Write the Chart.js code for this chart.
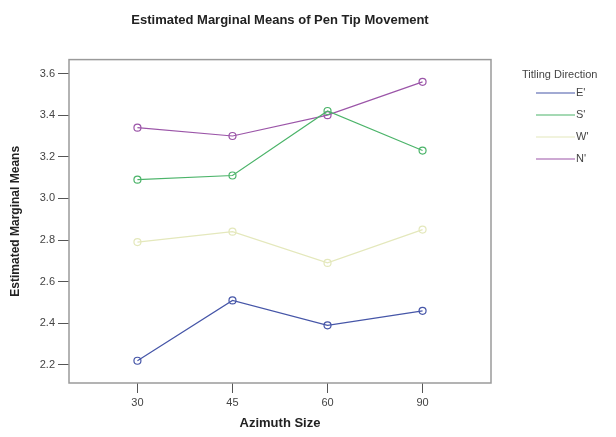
<!DOCTYPE html>
<html>
<head>
<meta charset="utf-8">
<script src="https://cdn.jsdelivr.net/npm/chart.js@4.4.1/dist/chart.umd.min.js"></script>
<style>
  html, body { margin: 0; padding: 0; background: #fff; }
  #wrap { width: 616px; height: 437px; }
</style>
</head>
<body>
<div id="wrap"><canvas id="emm" width="616" height="437"></canvas></div>
<script>
// Azimuth size categories on the x axis
const azimuths = ["30", "45", "60", "90"];
const yTicks = [2.2, 2.4, 2.6, 2.8, 3.0, 3.2, 3.4, 3.6];

// estimated marginal means per tilting direction
const seriesNames = ["E'", "S'", "W'", "N'"];
const eastMeans = [2.22, 2.51, 2.39, 2.46];
const southMeans = [3.09, 3.11, 3.42, 3.23];
const westMeans = [2.79, 2.84, 2.69, 2.85];
const northMeans = [3.34, 3.30, 3.40, 3.56];

const seriesColors = ["#4656a8", "#4cb46a", "#e4e8bc", "#9b55a8"];
const seriesValues = [eastMeans, southMeans, westMeans, northMeans];

const FONT = "'Liberation Sans', Arial, sans-serif";

const frameBox = {
    id: "frameBox",
    beforeDatasetsDraw(chart) {
        const { ctx, chartArea: a } = chart;
        ctx.save();
        ctx.strokeStyle = "#9a9a9a";
        ctx.lineWidth = 1.5;
        ctx.strokeRect(a.left, a.top, a.right - a.left, a.bottom - a.top);
        ctx.restore();
    },
};

// SPSS-style legend to the right of the plot
const sideLegend = {
    id: "sideLegend",
    afterDraw(chart) {
        const ctx = chart.ctx;
        ctx.save();
        ctx.font = "11px " + FONT;
        ctx.fillStyle = "#444";
        ctx.textBaseline = "middle";
        ctx.textAlign = "left";
        ctx.fillText("Titling Direction", 522, 75);
        chart.data.datasets.forEach((ds, i) => {
            const y = 93 + i * 22;
            ctx.strokeStyle = ds.borderColor;
            ctx.lineWidth = 1.2;
            ctx.beginPath();
            ctx.moveTo(536, y);
            ctx.lineTo(575, y);
            ctx.stroke();
            ctx.fillStyle = "#444";
            ctx.fillText(ds.label, 576, y);
        });
        ctx.restore();
    },
};

const datasets = seriesNames.map((name, i) => ({
    label: name,
    data: seriesValues[i].map((v, j) => ({ x: j, y: v })),
    borderColor: seriesColors[i],
    backgroundColor: "rgba(255,255,255,0)",
    borderWidth: 1.2,
    pointRadius: 3.5,
    pointBorderWidth: 1.2,
    pointBackgroundColor: "rgba(255,255,255,0)",
    pointBorderColor: seriesColors[i],
    tension: 0,
}));

new Chart(document.getElementById("emm").getContext("2d"), {
    type: "line",
    data: { datasets: datasets },
    plugins: [frameBox, sideLegend],
    options: {
        responsive: false,
        animation: false,
        layout: { padding: { left: 0, right: 125, top: 0, bottom: 0 } },
        plugins: {
            legend: { display: false },
            tooltip: { enabled: false },
            title: {
                display: true,
                fullSize: false,
                text: "Estimated Marginal Means of Pen Tip Movement",
                color: "#222",
                font: { family: FONT, size: 13, weight: "bold" },
                padding: { top: 13, bottom: 31 },
            },
        },
        scales: {
            x: {
                type: "linear",
                min: -0.72,
                max: 3.72,
                afterBuildTicks: (s) => { s.ticks = azimuths.map((c, i) => ({ value: i })); },
                afterFit: (s) => { s.height = 54; },
                ticks: {
                    callback: (v) => azimuths[v],
                    color: "#444",
                    font: { family: FONT, size: 11 },
                    padding: 3,
                    maxRotation: 0,
                },
                grid: { drawOnChartArea: false, drawTicks: true, tickLength: 10, color: "#555" },
                border: { display: false },
                title: {
                    display: true,
                    text: "Azimuth Size",
                    color: "#222",
                    font: { family: FONT, size: 13, weight: "bold" },
                    padding: { top: 0, bottom: 6 },
                },
            },
            y: {
                min: 2.113,
                max: 3.667,
                afterBuildTicks: (s) => { s.ticks = yTicks.map((v) => ({ value: v })); },
                afterFit: (s) => { s.width = 69; },
                ticks: {
                    callback: (v) => v.toFixed(1),
                    color: "#444",
                    font: { family: FONT, size: 11 },
                    padding: 3,
                },
                grid: { drawOnChartArea: false, drawTicks: true, tickLength: 11, color: "#555" },
                border: { display: false },
                title: {
                    display: true,
                    text: "Estimated Marginal Means",
                    color: "#222",
                    font: { family: FONT, size: 12, weight: "bold" },
                    padding: { top: 8, bottom: 0 },
                },
            },
        },
    },
});
</script>
</body>
</html>
